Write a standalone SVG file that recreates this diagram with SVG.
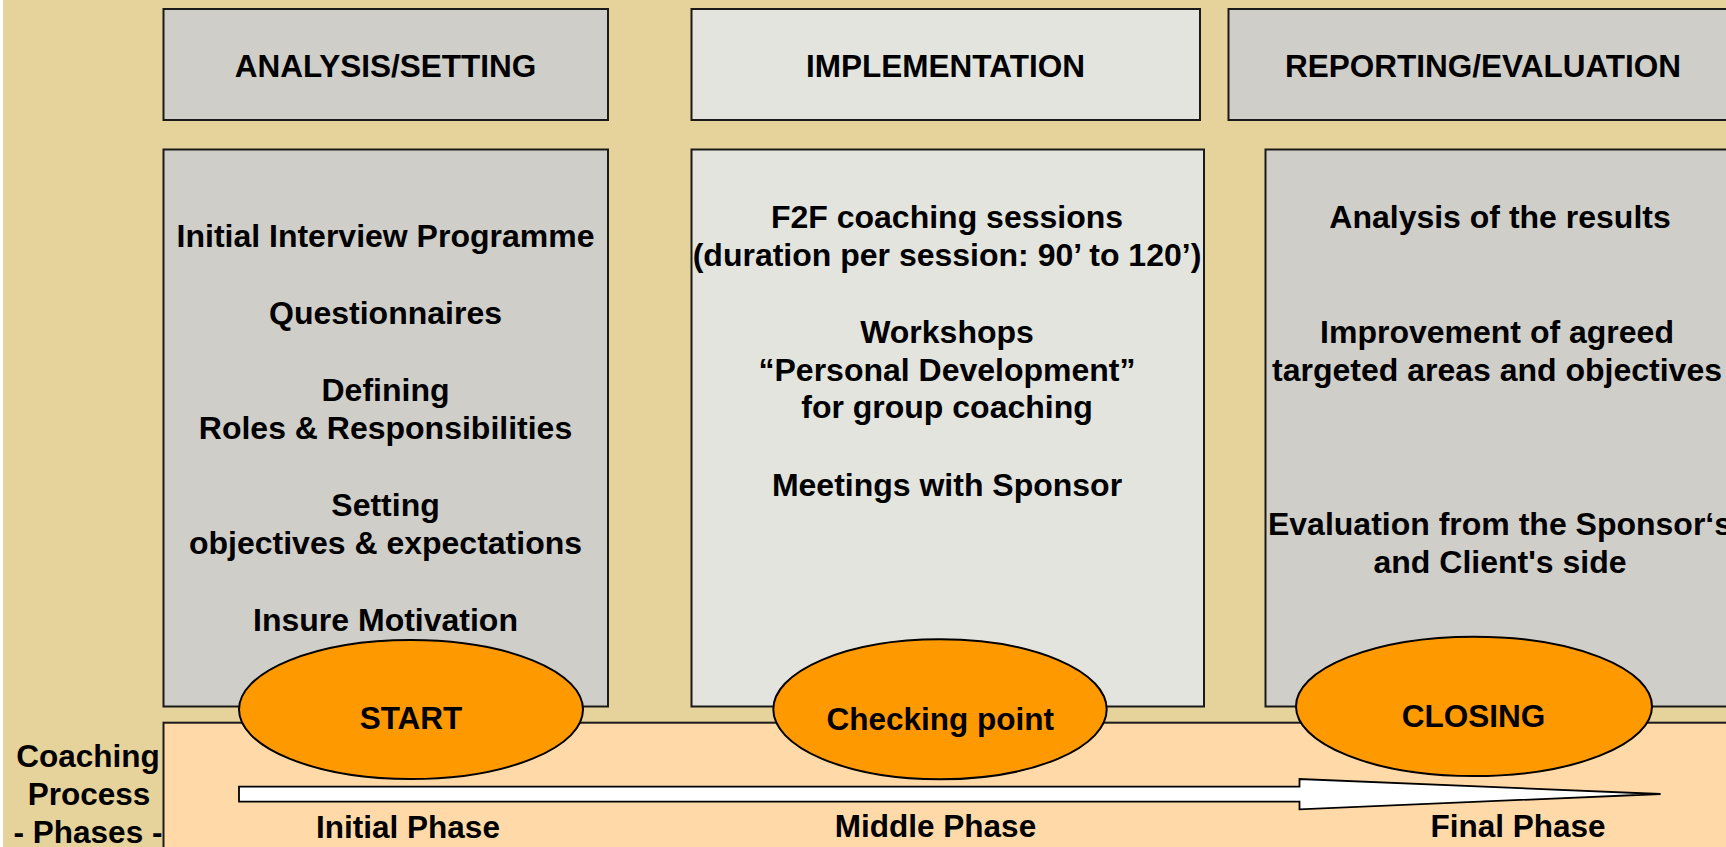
<svg xmlns="http://www.w3.org/2000/svg" width="1726" height="847" viewBox="0 0 1726 847">
<style>
.t{font-family:"Liberation Sans",Arial,sans-serif;font-weight:bold;fill:#000;text-anchor:middle}
.h{font-size:31.5px}
.b{font-size:32px}
.box{stroke:#1a1a1a;stroke-width:2}
.gray{fill:#CFCEC8}
.light{fill:#E2E4DD}
.oval{fill:#FF9900;stroke:#000;stroke-width:2}
</style>
<rect x="0" y="0" width="1726" height="847" fill="#FFFFFF"/>
<rect x="3" y="0" width="1723" height="847" fill="#E6D29B"/>

<g id="header-analysis">
<rect class="box gray" x="163.5" y="9" width="444.5" height="111"/>
<text class="t h" x="385.5" y="77">ANALYSIS/SETTING</text>
</g>
<g id="header-implementation">
<rect class="box light" x="691.5" y="9" width="508.5" height="111"/>
<text class="t h" x="945.5" y="77">IMPLEMENTATION</text>
</g>
<g id="header-reporting">
<rect class="box gray" x="1228.5" y="9" width="512" height="111"/>
<text class="t h" x="1483" y="77">REPORTING/EVALUATION</text>
</g>

<g id="body-analysis">
<rect class="box gray" x="163.5" y="149.5" width="444.5" height="557"/>
<text class="t b" x="385.5" y="247.3">Initial Interview Programme</text>
<text class="t b" x="385.5" y="323.6">Questionnaires</text>
<text class="t b" x="385.5" y="400.5">Defining</text>
<text class="t b" x="385.5" y="438.8">Roles &amp; Responsibilities</text>
<text class="t b" x="385.5" y="515.6">Setting</text>
<text class="t b" x="385.5" y="553.9">objectives &amp; expectations</text>
<text class="t b" x="385.5" y="630.8">Insure Motivation</text>
</g>
<g id="body-implementation">
<rect class="box light" x="691.5" y="149.5" width="512.5" height="557"/>
<text class="t b" x="947" y="228.3">F2F coaching sessions</text>
<text class="t b" x="947" y="266.3">(duration per session: 90’ to 120’)</text>
<text class="t b" x="947" y="342.6">Workshops</text>
<text class="t b" x="947" y="380.7">“Personal Development”</text>
<text class="t b" x="947" y="418.2">for group coaching</text>
<text class="t b" x="947" y="495.5">Meetings with Sponsor</text>
</g>
<g id="body-reporting">
<rect class="box gray" x="1265.5" y="149.5" width="475" height="557"/>
<text class="t b" x="1500" y="228.3">Analysis of the results</text>
<text class="t b" x="1497" y="343.3">Improvement of agreed</text>
<text class="t b" x="1497" y="381.3">targeted areas and objectives</text>
<text class="t b" x="1500" y="535">Evaluation from the Sponsor‘s</text>
<text class="t b" x="1500" y="573.3">and Client's side</text>
</g>

<g id="phase-band">
<rect class="box" fill="#FFDAA8" x="163.5" y="722.7" width="1580" height="140"/>
</g>

<g id="process-label">
<text class="t h" x="88" y="766.7">Coaching</text>
<text class="t h" x="89" y="805">Process</text>
<text class="t h" x="88" y="843.3">- Phases -</text>
</g>

<g id="connectors">
<polygon points="239,786.7 1299.5,786.7 1299.5,779 1660.6,794 1299.5,809.3 1299.5,801.7 239,801.7" fill="#FFFFFF" stroke="#000" stroke-width="1.8" stroke-linejoin="miter"/>
</g>

<g id="start">
<ellipse class="oval" cx="411" cy="709.5" rx="172" ry="69.5"/>
<text class="t h" x="411" y="729">START</text>
</g>
<g id="checking-point">
<ellipse class="oval" cx="940" cy="709.3" rx="166.7" ry="70"/>
<text class="t h" x="940.3" y="730">Checking point</text>
</g>
<g id="closing">
<ellipse class="oval" cx="1474" cy="706.4" rx="178" ry="69.7"/>
<text class="t h" x="1473.5" y="726.7">CLOSING</text>
</g>

<g id="phase-labels">
<text class="t h" x="408" y="838">Initial Phase</text>
<text class="t h" x="935.5" y="836.5">Middle Phase</text>
<text class="t h" x="1518" y="836.7">Final Phase</text>
</g>
</svg>
